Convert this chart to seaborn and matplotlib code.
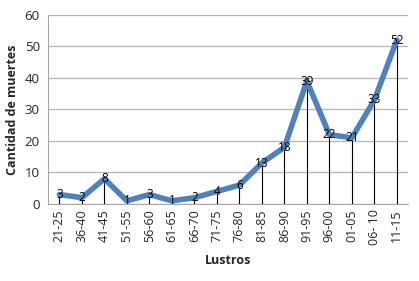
import pandas as pd
import numpy as np
import matplotlib.pyplot as plt
import seaborn as sns

lustros = ["21-25", "36-40", "41-45", "51-55", "56-60", "61-65", "66-70", "71-75",
           "76-80", "81-85", "86-90", "91-95", "96-00", "01-05", "06- 10", "11-15"]
muertes = [3, 2, 8, 1, 3, 1, 2, 4, 6, 13, 18, 39, 22, 21, 33, 52]

df = pd.DataFrame({"Lustros": lustros, "Muertes": muertes})
df["pos"] = np.arange(len(df))

sns.set_style("white")
plt.rcParams["font.family"] = ["Open Sans", "DejaVu Sans"]

fig = plt.figure(figsize=(4.19, 2.81), dpi=100)
ax = fig.add_axes([0.115, 0.274, 0.859, 0.673])

ax.vlines(df["pos"], 0, df["Muertes"], color="black", linewidth=0.8, zorder=2)
sns.lineplot(data=df, x="pos", y="Muertes", ax=ax, color="#4F81BD",
             linewidth=4, zorder=3)

for p, v in zip(df["pos"], df["Muertes"]):
    ax.text(p, v, str(v), ha="center", va="center", fontsize=8.5, color="black", zorder=4)

ax.set_xlim(-0.5, len(df) - 0.5)
ax.set_ylim(0, 60)
ax.set_yticks(range(0, 61, 10))
ax.set_xticks(df["pos"])
ax.set_xticklabels(df["Lustros"], rotation=90, fontsize=9)
ax.tick_params(axis="y", labelsize=9.5, length=0, pad=6)
ax.tick_params(axis="x", length=0, pad=4)
ax.yaxis.grid(True, color="#B4B4B4", linewidth=0.9)
ax.set_axisbelow(True)
for s in ["top", "right"]:
    ax.spines[s].set_visible(False)
ax.spines["left"].set_color("#A6A6A6")
ax.spines["bottom"].set_color("#A6A6A6")

ax.set_xlabel("Lustros", fontsize=9, fontweight="bold", labelpad=6)
ax.set_ylabel("Cantidad de muertes", fontsize=9, fontweight="bold", labelpad=4)

fig.savefig("out.png", dpi=100)
